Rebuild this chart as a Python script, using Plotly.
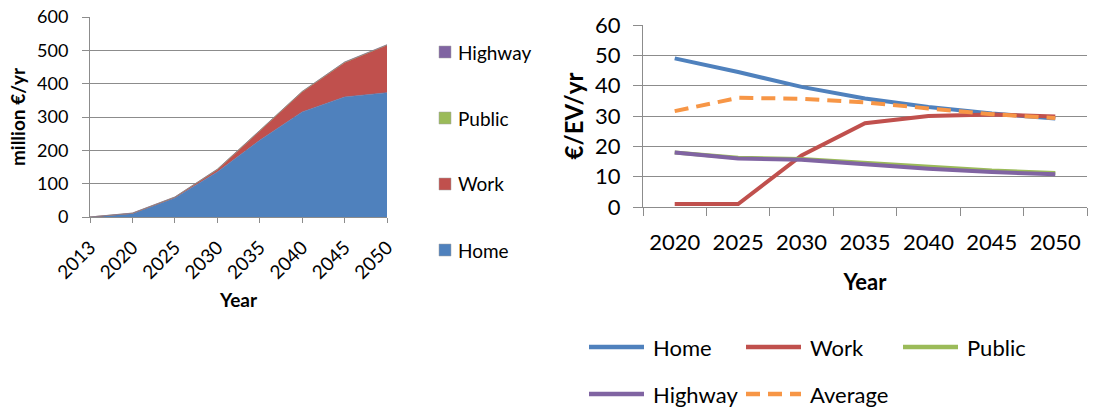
import plotly.graph_objects as go

# ---------------- data ----------------
years_left = ["2013", "2020", "2025", "2030", "2035", "2040", "2045", "2050"]
home_cost = [0, 10, 57, 135, 230, 315, 360, 373]
work_cost = [0, 1, 2, 7, 28, 60, 103, 142]
public_cost = [0, 0.6, 0.8, 1.0, 1.2, 1.2, 1.3, 1.3]
highway_cost = [0, 0.3, 0.4, 0.5, 0.6, 0.6, 0.7, 0.7]
left_legend_names = ["Highway", "Public", "Work", "Home"]

years_right = ["2020", "2025", "2030", "2035", "2040", "2045", "2050"]
home_ev = [49, 44.5, 39.6, 35.8, 33, 30.8, 29.2]
work_ev = [1, 1, 17, 27.6, 30, 30.5, 29.8]
public_ev = [18, 16.2, 15.8, 14.5, 13, 12, 11.2]
highway_ev = [18, 16, 15.6, 14, 12.6, 11.5, 10.8]
average_ev = [31.6, 36, 35.7, 34.5, 32.5, 30.6, 29.3]
right_legend_rows = [["Home", "Work", "Public"], ["Highway", "Average"]]

# ---------------- style ----------------
COLORS = {"Home": "#4F81BD", "Work": "#C0504D", "Public": "#9BBB59",
          "Highway": "#8064A2", "Average": "#F79646"}
DASH = "14px,8px"
GRID = "#8C8C8C"
FONT = "Lato"
W, H = 1116, 410

fig = go.Figure()

# left stacked area chart
for name, vals in [("Home", home_cost), ("Work", work_cost),
                   ("Public", public_cost), ("Highway", highway_cost)]:
    fig.add_trace(go.Scatter(
        x=years_left, y=vals, name=name, stackgroup="costs", mode="lines",
        line=dict(width=0.6, color=COLORS[name]), fillcolor=COLORS[name],
        showlegend=False, xaxis="x", yaxis="y"))

# right line chart
for name, vals in [("Home", home_ev), ("Work", work_ev), ("Public", public_ev),
                   ("Highway", highway_ev), ("Average", average_ev)]:
    fig.add_trace(go.Scatter(
        x=years_right, y=vals, name=name, mode="lines",
        line=dict(width=4, color=COLORS[name], dash=DASH if name == "Average" else "solid"),
        showlegend=False, xaxis="x2", yaxis="y2"))

shapes, annotations = [], []

# left legend (squares + labels)
for i, name in enumerate(left_legend_names):
    yc = 52 + i * 66
    shapes.append(dict(type="rect", xref="paper", yref="paper",
                       x0=439 / W, x1=451 / W, y0=(H - yc - 6) / H, y1=(H - yc + 6) / H,
                       fillcolor=COLORS[name], line=dict(width=0.5, color="#A0A0A0")))
    annotations.append(dict(text=name, xref="paper", yref="paper", x=456 / W,
                            y=(H - yc) / H, xanchor="left", yanchor="middle",
                            showarrow=False, font=dict(size=19, color="#000000")))

# right legend (lines + labels)
for r, row in enumerate(right_legend_rows):
    yc = 347 + r * 47
    for c, name in enumerate(row):
        x0 = 589 + c * 157
        shapes.append(dict(type="line", xref="paper", yref="paper",
                           x0=x0 / W, x1=(x0 + 55) / W, y0=(H - yc) / H, y1=(H - yc) / H,
                           line=dict(width=4.5, color=COLORS[name],
                                     dash=DASH if name == "Average" else "solid")))
        annotations.append(dict(text=name, xref="paper", yref="paper", x=(x0 + 62) / W,
                                y=(H - yc) / H, xanchor="left", yanchor="middle",
                                showarrow=False, font=dict(size=22, color="#000000")))

axis_common = dict(showline=True, linecolor=GRID, linewidth=1, ticks="outside",
                   tickcolor=GRID, tickwidth=1, automargin=False, zeroline=False)

fig.update_layout(
    width=W, height=H,
    margin=dict(l=0, r=0, t=0, b=0),
    paper_bgcolor="white", plot_bgcolor="white",
    font=dict(family=FONT, color="#000000"),
    showlegend=False,
    shapes=shapes, annotations=annotations,
    xaxis=dict(domain=[90 / W, 387 / W], type="category", range=[0, 7],
               tickangle=-45, ticklen=5, showgrid=False,
               tickfont=dict(size=19), ticklabelstandoff=6,
               title=dict(text="<b>Year</b>", font=dict(size=19), standoff=11),
               anchor="y", **axis_common),
    yaxis=dict(domain=[(H - 217) / H, (H - 17) / H], range=[0, 600], dtick=100,
               ticklen=7, showgrid=True, gridcolor=GRID, gridwidth=1,
               tickfont=dict(size=18), ticklabelstandoff=10,
               title=dict(text="<b>million €/yr</b>", font=dict(size=19), standoff=6),
               anchor="x", **axis_common),
    xaxis2=dict(domain=[643 / W, 1087 / W], type="category", range=[-0.5, 6.5],
                tickson="boundaries", ticklen=8, showgrid=False, tickangle=0,
                tickfont=dict(size=22), ticklabelstandoff=16,
                title=dict(text="<b>Year</b>", font=dict(size=22), standoff=20),
                anchor="y2", **axis_common),
    yaxis2=dict(domain=[(H - 207) / H, (H - 25) / H], range=[0, 60], dtick=10,
                ticklen=9, showgrid=True, gridcolor=GRID, gridwidth=1,
                tickfont=dict(size=22), ticklabelstandoff=8,
                title=dict(text="<b>€/EV/yr</b>", font=dict(size=24), standoff=4),
                anchor="x2", **axis_common),
)

fig.write_html("out.html", config={"displayModeBar": False},
               post_script="document.body.style.margin='0';")
